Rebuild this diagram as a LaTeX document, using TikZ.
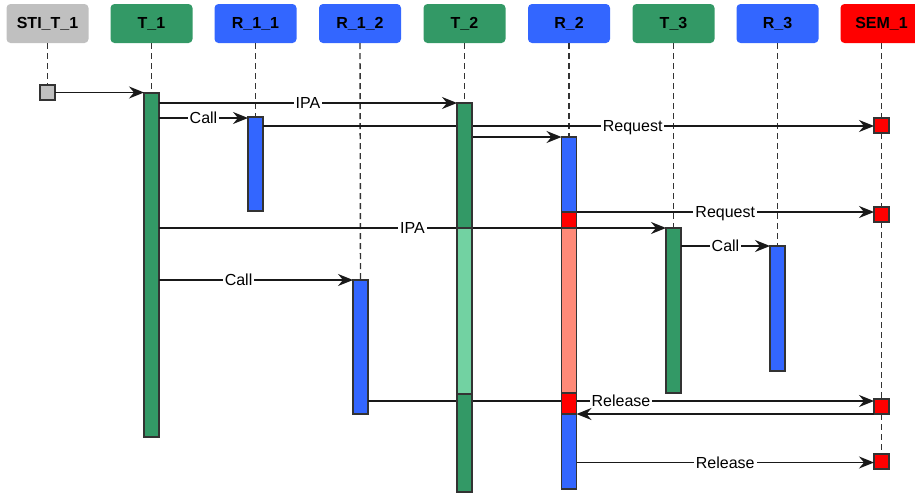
\documentclass[tikz,border=0pt]{standalone}
\usepackage{fontspec}
\setmainfont{Liberation Sans}
\usetikzlibrary{arrows.meta,calc}

\definecolor{hdrgray}{HTML}{C0C0C0}
\definecolor{tgreen}{HTML}{339966}
\definecolor{tlight}{HTML}{72D2A2}
\definecolor{rblue}{HTML}{3366FF}
\definecolor{sred}{HTML}{FF0000}
\definecolor{salmon}{HTML}{FF8A78}
\definecolor{lifegray}{HTML}{333333}

\tikzset{
  header/.style={rounded corners=4pt, minimum width=82pt, minimum height=39pt,
    inner sep=0pt, outer sep=0pt, font=\fontsize{16}{19}\selectfont\bfseries},
  bar/.style={draw=black!80, line width=1.1pt, minimum width=15pt,
    inner sep=0pt, outer sep=0pt, anchor=north},
  semsq/.style={draw=black!80, line width=1.1pt, fill=sred, minimum width=15pt,
    minimum height=15pt, inner sep=0pt, outer sep=0pt, anchor=north},
  lifeline/.style={draw=lifegray, line width=1.4pt, dash pattern=on 6pt off 4pt},
  msg/.style={draw=black!90, line width=1.4pt,
    -{Stealth[length=15pt, width=12pt, inset=5pt]}},
  lbl/.style={fill=white, inner sep=2pt, text height=11.5pt, text depth=0pt,
    font=\fontsize{16}{19}\selectfont}
}

\begin{document}
\begin{tikzpicture}[x=1pt, y=-1pt]
  \clip (0,0) rectangle (915,493);
  \useasboundingbox (0,0) rectangle (915,493);

  % participant headers
  \node[header, fill=hdrgray] (hsti) at (47.5,23.5) {STI\_T\_1};
  \node[header, fill=tgreen]  (ht1)  at (151.5,23.5) {T\_1};
  \node[header, fill=rblue]   (hr11) at (255.5,23.5) {R\_1\_1};
  \node[header, fill=rblue]   (hr12) at (360,23.5) {R\_1\_2};
  \node[header, fill=tgreen]  (ht2)  at (464.5,23.5) {T\_2};
  \node[header, fill=rblue]   (hr2)  at (569,23.5) {R\_2};
  \node[header, fill=tgreen]  (ht3)  at (673.5,23.5) {T\_3};
  \node[header, fill=rblue]   (hr3)  at (777.5,23.5) {R\_3};
  \node[header, fill=sred]    (hsem) at (881.5,23.5) {SEM\_1};

  % activation bars
  \node[bar, fill=hdrgray, minimum height=15pt] (sti) at (47.5,85) {};
  \node[bar, fill=tgreen, minimum height=344pt] (t1) at (151.5,93) {};
  \node[bar, fill=rblue, minimum height=94pt] (r11) at (255.5,117) {};
  \node[bar, fill=rblue, minimum height=134pt] (r12) at (360.5,280) {};
  \node[bar, fill=tgreen, minimum height=125pt] (t2a) at (464.5,103) {};
  \node[bar, fill=tlight, minimum height=166pt] (t2b) at (464.5,228) {};
  \node[bar, fill=tgreen, minimum height=98pt] (t2c) at (464.5,394) {};
  \node[bar, fill=rblue, minimum height=75pt] (r2a) at (569,137) {};
  \node[bar, fill=sred, minimum height=16pt] (r2b) at (569,212) {};
  \node[bar, fill=salmon, minimum height=165pt] (r2c) at (569,228) {};
  \node[bar, fill=sred, minimum height=21pt] (r2d) at (569,393) {};
  \node[bar, fill=rblue, minimum height=75pt] (r2e) at (569,414) {};
  \node[bar, fill=tgreen, minimum height=165pt] (t3) at (673.5,228) {};
  \node[bar, fill=rblue, minimum height=125pt] (r3) at (777.5,246) {};
  \node[semsq] (sem1) at (881.5,118) {};
  \node[semsq] (sem2) at (881.5,207) {};
  \node[semsq] (sem3) at (881.5,399) {};
  \node[semsq] (sem4) at (881.5,454) {};

  % lifelines
  \path[lifeline] (hsti.south) -- (sti.north);
  \path[lifeline] (ht1.south) -- (t1.north);
  \path[lifeline] (hr11.south) -- (r11.north);
  \path[lifeline] (hr12.south) -- (r12.north);
  \path[lifeline] (ht2.south) -- (t2a.north);
  \path[lifeline] (hr2.south) -- (r2a.north);
  \path[lifeline] (ht3.south) -- (t3.north);
  \path[lifeline] (hr3.south) -- (r3.north);
  \path[lifeline] (hsem.south) -- (sem1.north);
  \path[lifeline] (sem1.south) -- (sem2.north);
  \path[lifeline] (sem2.south) -- (sem3.north);
  \path[lifeline] (sem3.south) -- (sem4.north);

  % messages
  \draw[msg] (sti.east) -- (sti.east -| t1.west);
  \draw[msg] (t2a.north west -| t1.east) -- node[lbl] {IPA} (t2a.north west);
  \coordinate (c1) at ($(r11.north west)+(0,1)$);
  \draw[msg] (c1 -| t1.east) -- node[lbl] {Call} (c1);
  \coordinate (q1) at ($(sem1.west)+(0,0.5)$);
  \draw[msg] (q1 -| r11.east) -- node[lbl, pos=0.605] {Request} (q1);
  \draw[msg] (r2a.north west -| t2a.east) -- (r2a.north west);
  \draw[msg] (r2b.north east) -- node[lbl] {Request} (r2b.north east -| sem2.west);
  \draw[msg] (t3.north west -| t1.east) -- node[lbl] {IPA} (t3.north west);
  \draw[msg] (r3.north west -| t3.east) -- node[lbl] {Call} (r3.north west);
  \draw[msg] (r12.north west -| t1.east) -- node[lbl, pos=0.41] {Call} (r12.north west);
  \coordinate (q3) at ($(sem3.north west)+(0,2)$);
  \draw[msg] (q3 -| r12.east) -- node[lbl] {Release} (q3);
  \draw[msg] (sem3.south west) -- (sem3.south west -| r2d.east);
  \coordinate (q4) at ($(sem4.west)+(0,1)$);
  \draw[msg] (q4 -| r2e.east) -- node[lbl] {Release} (q4);

  % bars redrawn so the message lines run behind their faces
  \foreach \b/\c in {t2a/tgreen, t2b/tlight, t2c/tgreen, r2a/rblue, r2b/sred,
                     r2c/salmon, r2d/sred}{
    \draw[draw=black!80, line width=1.1pt, fill=\c] (\b.north west) rectangle (\b.south east);
  }
\end{tikzpicture}
\end{document}
